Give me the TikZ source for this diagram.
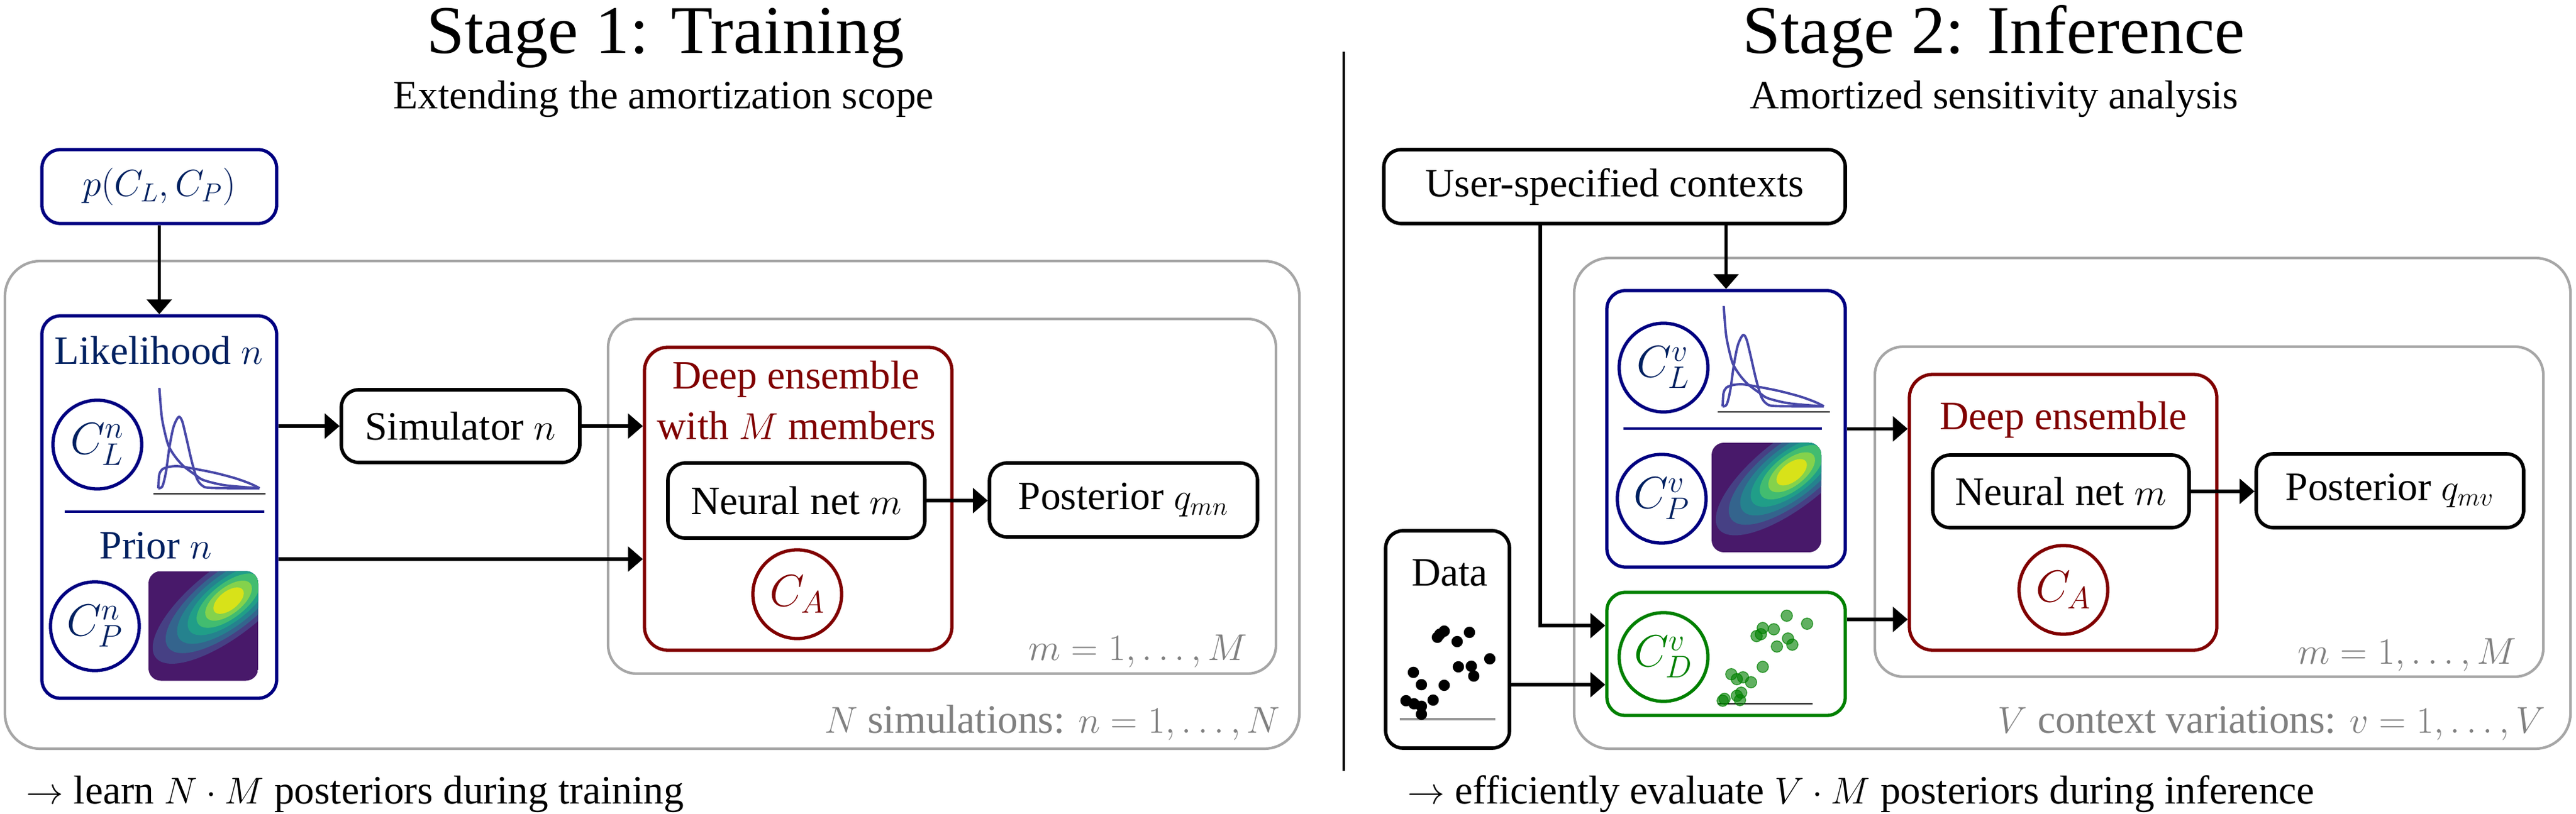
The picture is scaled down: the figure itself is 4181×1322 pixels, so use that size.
\documentclass[tikz,border=0pt]{standalone}
\usepackage{fontspec}
\setmainfont{Liberation Serif}
\usetikzlibrary{arrows.meta}
\definecolor{navyB}{RGB}{0,0,128}
\definecolor{navyT}{RGB}{0,32,96}
\definecolor{dred}{RGB}{128,0,0}
\definecolor{dgreen}{RGB}{0,128,0}
\definecolor{gbox}{RGB}{166,166,166}
\definecolor{gtext}{RGB}{128,128,128}
\definecolor{curveC}{RGB}{72,72,168}
\definecolor{vir0}{RGB}{72,25,106}
\definecolor{vir1}{RGB}{70,64,132}
\definecolor{vir2}{RGB}{52,100,141}
\definecolor{vir3}{RGB}{37,130,142}
\definecolor{vir4}{RGB}{32,158,136}
\definecolor{vir5}{RGB}{66,188,112}
\definecolor{vir6}{RGB}{132,210,76}
\definecolor{vir7}{RGB}{216,226,25}

\newcommand{\likplot}[1]{%
 \begin{scope}[shift={#1}]
  \draw[black, line width=0.8pt] (0,0) -- (182,0);
  \begin{scope}[shift={(8,-9)}]
   \begin{scope}[x=1.64cm, y=1.63cm]
    \draw[curveC, line width=1.1pt, line join=round] plot[smooth, tension=0.5] coordinates {(0.01,1.0) (0.034,0.71) (0.075,0.51) (0.107,0.41) (0.17,0.31) (0.25,0.22) (0.37,0.13) (0.45,0.08) (0.66,0.03) (1.0,0.0)};
    \draw[curveC, line width=1.1pt, line join=round] plot[smooth, tension=0.5] coordinates {(0,0) (0.04,0.02) (0.075,0.16) (0.11,0.41) (0.15,0.61) (0.2,0.71) (0.235,0.67) (0.275,0.51) (0.33,0.27) (0.38,0.10) (0.43,0.03) (0.52,0.004) (1,0)};
    \draw[curveC, line width=1.1pt, line join=round] plot[smooth, tension=0.5] coordinates {(0,0) (0.008,0.13) (0.035,0.185) (0.09,0.21) (0.19,0.22) (0.35,0.195) (0.56,0.153) (0.76,0.10) (0.90,0.05) (0.98,0.012) (1,0)};
   \end{scope}
  \end{scope}
 \end{scope}}

\newcommand{\priorimg}[1]{%
 \begin{scope}[shift={#1}]
  \begin{scope}
   \clip[rounded corners=0.2cm] (0,0) rectangle (178,178);
   \fill[vir0] (0,0) rectangle (178,178);
   \begin{scope}[shift={(130,48)}, rotate=38]
    \fill[vir1] (0,0) ellipse[x radius=1.50cm, y radius=0.56cm];
    \fill[vir2] (0,0) ellipse[x radius=1.24cm, y radius=0.48cm];
    \fill[vir3] (0,0) ellipse[x radius=1.01cm, y radius=0.41cm];
    \fill[vir4] (0,0) ellipse[x radius=0.80cm, y radius=0.34cm];
    \fill[vir5] (0,0) ellipse[x radius=0.62cm, y radius=0.28cm];
    \fill[vir6] (0,0) ellipse[x radius=0.45cm, y radius=0.215cm];
    \fill[vir7] (0,0) ellipse[x radius=0.29cm, y radius=0.15cm];
   \end{scope}
  \end{scope}
 \end{scope}}

\begin{document}
\begin{tikzpicture}[x=0.01cm, y=-0.01cm, font=\fontsize{18.6pt}{22pt}\selectfont,
  sz/.style 2 args={minimum width=#1*0.01cm, minimum height=#2*0.01cm, inner sep=0pt},
  gbx/.style={draw=gbox, line width=1.2pt},
  bbx/.style={draw=black, line width=1.6pt, rounded corners=0.28cm},
  nbx/.style={draw=navyB, line width=1.5pt, rounded corners=0.3cm},
  rbx/.style={draw=dred, line width=1.5pt, rounded corners=0.38cm},
  gnbx/.style={draw=dgreen, line width=1.5pt, rounded corners=0.3cm},
  ctx/.style={circle, line width=1.5pt, minimum size=1.44cm, inner sep=0pt, font=\fontsize{21.5pt}{24pt}\selectfont},
  arr/.style={-{Triangle[length=0.24cm,width=0.4cm]}, line width=1.5pt},
  lbl/.style={inner sep=0pt},
  ttl/.style={inner sep=0pt, font=\fontsize{31.5pt}{38pt}\selectfont},
  glbl/.style={inner sep=0pt, text=gtext},
  dotk/.style={fill=black},
  dotg/.style={fill=dgreen, fill opacity=0.62, draw=dgreen, draw opacity=0.7, line width=0.4pt},
]
\useasboundingbox (0,0) rectangle (4181,1322);

% ---------- titles ----------
\node[ttl, anchor=base] (t1) at (1080,87) {Stage 1: Training};
\node[lbl, anchor=base] (s1) at (1077,177) {Extending the amortization scope};
\node[ttl, anchor=base] (t2) at (3236,87) {Stage 2: Inference};
\node[lbl, anchor=base] (s2) at (3237,177) {Amortized sensitivity analysis};
\coordinate (d1) at (2181,84);
\coordinate (d2) at (2181,1252);
\draw[line width=1.3pt] (d1) -- (d2);

% ================= STAGE 1 =================
\node[gbx, sz={2101}{792}, rounded corners=0.57cm] (outerL) at (1058.5,820) {};
\node[gbx, sz={1084}{576}, rounded corners=0.46cm] (innerL) at (1529,806) {};
\node[nbx, sz={381}{120}, text=navyT] (pbox) at (258.5,303) {$p(C_L, C_P)$};
\node[nbx, sz={381}{621}] (blueL) at (258.5,823.5) {};
\node[lbl, anchor=base, text=navyT] (likL) at (258,592) {Likelihood $n$};
\node[ctx, draw=navyB, text=navyT] (clL) at (158,722) {$C_L^n$};
\likplot{(249,802)}
\draw[navyB, line width=1.3pt] (105,831) -- (429,831);
\node[lbl, anchor=base, text=navyT] (priL) at (253,907) {Prior $n$};
\node[ctx, draw=navyB, text=navyT] (cpL) at (154,1017) {$C_P^n$};
\priorimg{(241,927.5)}
\node[bbx, sz={387}{118}] (sim) at (747.5,692) {Simulator $n$};
\node[rbx, sz={499}{492}] (redL) at (1295.5,810) {};
\node[lbl, anchor=base, text=dred] (deL1) at (1292,632) {Deep ensemble};
\node[lbl, anchor=base, text=dred] (deL2) at (1293,714) {with $M$ members};
\node[bbx, sz={417}{122}] (nnL) at (1292.5,813) {Neural net $m$};
\node[bbx, sz={435}{120}] (postL) at (1823.5,812) {Posterior $q_{mn}$};
\node[ctx, draw=dred, text=dred] (caL) at (1294,965) {$C_A$};
\node[glbl, anchor=base east] (mL) at (2025,1072) {$m = 1, \ldots, M$};
\node[glbl, anchor=base east] (nL) at (2079,1190) {$N$ simulations: $n = 1, \ldots, N$};
\node[lbl, anchor=base west] (botL) at (42,1305) {$\rightarrow$ learn $N \cdot M$ posteriors during training};

\coordinate (yb) at (0,908);
\draw[arr] (pbox.south) -- (blueL.north);
\draw[arr] (blueL.east |- sim.west) -- (sim.west);
\draw[arr] (sim.east) -- (redL.west |- sim.east);
\draw[arr] (blueL.east |- yb) -- (redL.west |- yb);
\draw[arr] (nnL.east) -- (postL.west |- nnL.east);

% ================= STAGE 2 =================
\node[gbx, sz={1617}{797}, rounded corners=0.57cm] (outerR) at (3363.5,817.5) {};
\node[gbx, sz={1085}{536}, rounded corners=0.46cm] (innerR) at (3585.5,831) {};
\node[bbx, sz={749}{120}] (user) at (2620.5,303) {User-specified contexts};
\node[nbx, sz={387}{449}] (blueR) at (2801.5,696.5) {};
\node[ctx, draw=navyB, text=navyT] (clR) at (2700,597) {$C_L^v$};
\likplot{(2788,669)}
\draw[navyB, line width=1.3pt] (2635,696) -- (2957,696);
\node[ctx, draw=navyB, text=navyT] (cpR) at (2697,810) {$C_P^v$};
\priorimg{(2778,719)}
\node[gnbx, sz={387}{200}] (greenR) at (2801.5,1062) {};
\node[ctx, draw=dgreen, text=dgreen] (cdR) at (2700,1067) {$C_D^v$};
\node[bbx, sz={201}{353}] (data) at (2349.5,1038.5) {};
\node[lbl, anchor=base] (dataT) at (2353,951) {Data};
\node[rbx, sz={499}{448}] (redR) at (3348.5,832) {};
\node[lbl, anchor=base, text=dred] (deR1) at (3349,698) {Deep ensemble};
\node[bbx, sz={416}{118}] (nnR) at (3345,798) {Neural net $m$};
\node[bbx, sz={434}{120}] (postR) at (3879,797) {Posterior $q_{mv}$};
\node[ctx, draw=dred, text=dred] (caR) at (3349,958) {$C_A$};
\node[glbl, anchor=base east] (mR) at (4085,1078) {$m = 1, \ldots, M$};
\node[glbl, anchor=base east] (vR) at (4132,1190) {$V$ context variations: $v = 1, \ldots, V$};
\node[lbl, anchor=base west] (botR) at (2284,1305) {$\rightarrow$ efficiently evaluate $V \cdot M$ posteriors during inference};

% data scatter
\draw[gbox!90!black, line width=1.1pt] (2272,1168) -- (2427,1168);
\foreach \p in {(2337,1030),(2344,1025),(2333,1035),(2365,1042),(2385,1027),(2418,1070),(2367,1083),(2388,1082),(2392,1098),(2294,1092),(2307,1112),(2344,1113),(2282,1138),(2326,1137),(2307,1147),(2307,1160),(2295,1143)}
  \fill[dotk] \p circle[radius=0.092cm];
% green scatter
\draw[black, line width=0.8pt] (2788,1143) -- (2942,1143);
\foreach \p in {(2900,1000),(2933,1013),(2861,1020),(2879,1022),(2851,1033),(2858,1030),(2902,1037),(2909,1047),(2884,1050),(2861,1083),(2810,1095),(2819,1103),(2829,1100),(2842,1108),(2826,1125),(2819,1130),(2824,1137),(2799,1135),(2796,1138)}
  \path[dotg] \p circle[radius=0.092cm];

\coordinate (ux) at (2500,0);
\coordinate (yd) at (0,1016);
\coordinate (ye) at (0,1112);
\coordinate (yf) at (0,1006);
\draw[arr] (user.south -| blueR.north) -- (blueR.north);
\draw[arr] (user.south -| ux) |- (greenR.west |- yd);
\draw[arr] (data.east |- ye) -- (greenR.west |- ye);
\draw[arr] (blueR.east) -- (redR.west |- blueR.east);
\draw[arr] (greenR.east |- yf) -- (redR.west |- yf);
\draw[arr] (nnR.east) -- (postR.west |- nnR.east);
\end{tikzpicture}
\end{document}
